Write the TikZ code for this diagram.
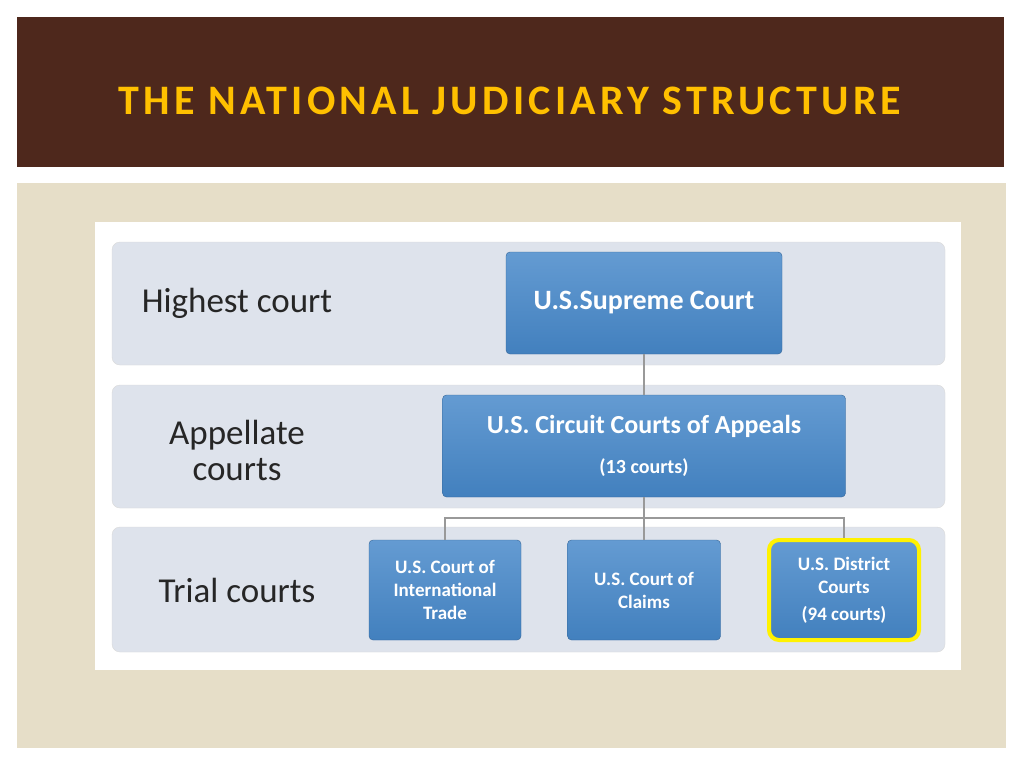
\documentclass[tikz,border=0pt]{standalone}
\usepackage{fontspec}
\setsansfont{Carlito}
\usetikzlibrary{positioning}
\definecolor{titlebrown}{RGB}{78,40,28}
\definecolor{titleyellow}{RGB}{255,192,0}
\definecolor{beige}{RGB}{230,222,200}
\definecolor{bandgrey}{RGB}{222,227,236}
\definecolor{boxblue}{RGB}{66,128,190}
\definecolor{boxblue2}{RGB}{100,155,210}
\tikzset{
  band/.style = {draw=black!15, fill=bandgrey, rounded corners=8pt},
  court/.style = {draw=boxblue!80!black, rounded corners=4pt, top color=boxblue2, bottom color=boxblue,
                  text=white, align=center, font=\sffamily\bfseries, inner sep=0pt},
  rowlabel/.style = {align=center, font=\sffamily\fontsize{35}{36}\selectfont, text=black!85},
  link/.style = {draw=black!40, line width=1.5pt}
}
\begin{document}
\begin{tikzpicture}[x=1pt, y=-1pt]
  \useasboundingbox (0,0) rectangle (1024,768);
  \fill[white] (0,0) rectangle (1024,768);

  % title
  \fill[titlebrown] (17,17) rectangle (1004,167);
  \node (title) at (510,101) [text=titleyellow, font=\sffamily\bfseries\fontsize{42}{44}\selectfont]
    {\addfontfeatures{LetterSpace=10}THE NATIONAL JUDICIARY STRUCTURE};

  % panel
  \fill[beige] (17,183) rectangle (1006,748);
  \fill[white] (95,222) rectangle (961,670);

  % rows
  \draw[band] (112,242) rectangle (945,365);
  \draw[band] (112,385) rectangle (945,508);
  \draw[band] (112,527) rectangle (945,652);

  \node (high) at (237,303) [rowlabel] {Highest court};
  \node (appel) at (237,450) [rowlabel] {Appellate\\courts};
  \node (trial) at (237,590) [rowlabel] {Trial courts};

  % courts
  \node (SC) at (644,303) [court, minimum width=276pt, minimum height=102pt, font=\sffamily\bfseries\fontsize{28}{30}\selectfont]
    {U.S.Supreme Court};
  \node (CA) at (644,446) [court, minimum width=403pt, minimum height=102pt, font=\sffamily\bfseries\fontsize{26}{40}\selectfont]
    {U.S. Circuit Courts of Appeals\\{\fontsize{20}{22}\selectfont (13 courts)}};
  \node (IT) at (445,590) [court, minimum width=152pt, minimum height=100pt, font=\sffamily\bfseries\fontsize{19}{23}\selectfont]
    {U.S. Court of\\International\\Trade};
  \node (CC) at (644,590) [court, minimum width=153pt, minimum height=100pt, font=\sffamily\bfseries\fontsize{19}{23}\selectfont]
    {U.S. Court of\\Claims};
  \node (DC) at (844,590) [court, minimum width=150pt, minimum height=100pt, draw=yellow, line width=4pt,
    rounded corners=10pt, font=\sffamily\bfseries\fontsize{19}{23}\selectfont]
    {U.S. District\\Courts\\[4pt](94 courts)};

  % links
  \coordinate (split) at (644,518);
  \draw[link] (SC) -- (CA);
  \draw[link] (CA) -- (split);
  \draw[link] (IT.north) |- (split) -| (DC.north);
  \draw[link] (split) -- (CC);
\end{tikzpicture}
\end{document}
